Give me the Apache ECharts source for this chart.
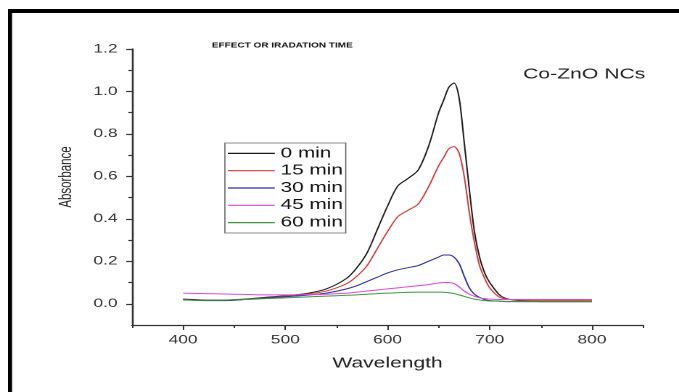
<!DOCTYPE html>
<html>
<head>
<meta charset="utf-8">
<style>
  html, body { margin: 0; padding: 0; background: #fff; overflow: hidden; }
  #wrap { width: 679px; height: 392px; overflow: hidden; }
  /* the figure is laid out narrow and widened horizontally */
  #chart { width: 468px; height: 392px; transform: scaleX(1.4509); transform-origin: 0 0; }
</style>
<script src="https://cdn.jsdelivr.net/npm/echarts@6/dist/echarts.min.js"></script>
</head>
<body>
<div id="wrap"><div id="chart"></div></div>
<script>
// UV-Vis absorbance spectra of Co-ZnO NCs at different irradiation times
const wavelengths = [400, 420, 440, 460, 480, 500, 520, 540, 560, 570, 580, 590, 600, 610, 620, 630, 640, 650, 655, 660, 665, 670, 675, 680, 685, 690, 695, 700, 710, 720, 740, 760, 780, 800];

const abs0 = [0.022, 0.018, 0.017, 0.022, 0.030, 0.038, 0.048, 0.070, 0.120, 0.170, 0.240, 0.350, 0.460, 0.555, 0.590, 0.630, 0.740, 0.900, 0.960, 1.020, 1.040, 0.970, 0.760, 0.540, 0.340, 0.220, 0.145, 0.100, 0.040, 0.020, 0.012, 0.010, 0.010, 0.010];
const abs15 = [0.020, 0.016, 0.016, 0.020, 0.028, 0.036, 0.045, 0.060, 0.095, 0.130, 0.180, 0.260, 0.340, 0.410, 0.440, 0.470, 0.550, 0.650, 0.690, 0.730, 0.740, 0.710, 0.600, 0.430, 0.290, 0.180, 0.120, 0.075, 0.030, 0.020, 0.015, 0.015, 0.015, 0.015];
const abs30 = [0.020, 0.015, 0.015, 0.020, 0.027, 0.033, 0.040, 0.050, 0.070, 0.085, 0.105, 0.125, 0.145, 0.160, 0.170, 0.180, 0.200, 0.220, 0.230, 0.230, 0.220, 0.190, 0.130, 0.075, 0.045, 0.030, 0.020, 0.015, 0.012, 0.010, 0.010, 0.010, 0.010, 0.010];
const abs45 = [0.050, 0.048, 0.046, 0.044, 0.042, 0.042, 0.043, 0.045, 0.050, 0.055, 0.060, 0.065, 0.070, 0.075, 0.080, 0.085, 0.090, 0.098, 0.100, 0.100, 0.095, 0.080, 0.060, 0.045, 0.035, 0.028, 0.024, 0.022, 0.020, 0.020, 0.020, 0.020, 0.020, 0.020];
const abs60 = [0.018, 0.016, 0.017, 0.020, 0.024, 0.028, 0.032, 0.036, 0.040, 0.042, 0.045, 0.048, 0.050, 0.052, 0.054, 0.055, 0.055, 0.055, 0.054, 0.052, 0.048, 0.042, 0.035, 0.028, 0.022, 0.018, 0.015, 0.013, 0.012, 0.011, 0.010, 0.010, 0.010, 0.010];

const seriesNames = ['0 min', '15 min', '30 min', '45 min', '60 min'];
const seriesColors = ['#1a1a1a', '#d83a36', '#2e2ea8', '#de48de', '#3a9a3a'];
const seriesValues = [abs0, abs15, abs30, abs45, abs60];

const xMajorTicks = [400, 500, 600, 700, 800];
const xMinorTicks = [350, 450, 550, 650, 750, 850];
const yMajorTicks = [0.0, 0.2, 0.4, 0.6, 0.8, 1.0, 1.2];
const yMinorTicks = [0.1, 0.3, 0.5, 0.7, 0.9, 1.1];

const FONT = 'Arial, "Liberation Sans", sans-serif';
const AXIS_COLOR = '#333';

const chart = echarts.init(document.getElementById('chart'), null, { renderer: 'canvas', devicePixelRatio: 2 });

const axisLineStyle = { show: true, onZero: false, lineStyle: { color: AXIS_COLOR, width: 1.3 } };

chart.setOption({
  animation: false,
  backgroundColor: '#fff',
  grid: { left: 91, right: 24.8, top: 49, bottom: 67, containLabel: false },
  title: [
    {
      text: 'EFFECT OR IRADATION TIME',
      left: 146, top: 42, padding: 0,
      textStyle: { fontFamily: FONT, fontSize: 6.9, fontWeight: 'bold', color: '#111' }
    },
    {
      text: 'Co-ZnO NCs',
      left: 360.5, top: 67, padding: 0,
      textStyle: { fontFamily: FONT, fontSize: 14.6, fontWeight: 'normal', color: '#222' }
    }
  ],
  legend: {
    orient: 'vertical',
    left: 155, top: 143,
    data: seriesNames,
    icon: 'rect',
    itemWidth: 32.4, itemHeight: 1.2, itemGap: 3.3,
    padding: [3.4, 2, 3.4, 2],
    borderColor: '#666', borderWidth: 0.8,
    textStyle: { fontFamily: FONT, fontSize: 14.3, lineHeight: 14, color: '#111', padding: [0, 0, 0, -1] }
  },
  xAxis: [
    {
      type: 'value', min: 350, max: 850, position: 'bottom',
      name: 'Wavelength', nameLocation: 'middle', nameGap: 31,
      nameTextStyle: { fontFamily: FONT, fontSize: 14.5, color: '#222' },
      axisLine: axisLineStyle,
      axisTick: { show: true, inside: false, length: 5, customValues: xMajorTicks, lineStyle: { color: AXIS_COLOR, width: 1 } },
      axisLabel: { show: true, margin: 9, customValues: xMajorTicks, fontFamily: FONT, fontSize: 12, color: '#333' },
      splitLine: { show: false }
    },
    {
      type: 'value', min: 350, max: 850, position: 'bottom',
      axisLine: { show: false, onZero: false },
      axisTick: { show: true, inside: false, length: 3, customValues: xMinorTicks, lineStyle: { color: AXIS_COLOR, width: 1 } },
      axisLabel: { show: false },
      splitLine: { show: false }
    }
  ],
  yAxis: [
    {
      type: 'value', min: -0.1, max: 1.2, position: 'left',
      name: 'Absorbance', nameLocation: 'middle', nameGap: 39,
      nameTextStyle: { fontFamily: FONT, fontSize: 11.5, color: '#222', padding: [0, 0, 0, 20] },
      axisLine: axisLineStyle,
      axisTick: { show: true, inside: false, length: 4, customValues: yMajorTicks, lineStyle: { color: AXIS_COLOR, width: 1.2 } },
      axisLabel: {
        show: true, margin: 10, customValues: yMajorTicks,
        fontFamily: FONT, fontSize: 12, color: '#333',
        formatter: v => v.toFixed(1)
      },
      splitLine: { show: false }
    },
    {
      type: 'value', min: -0.1, max: 1.2, position: 'left',
      axisLine: { show: false, onZero: false },
      axisTick: { show: true, inside: false, length: 2.5, customValues: yMinorTicks, lineStyle: { color: AXIS_COLOR, width: 1.2 } },
      axisLabel: { show: false },
      splitLine: { show: false }
    }
  ],
  graphic: [
    // frame edges along the top and left
    { type: 'rect', shape: { x: 5.5, y: 9, width: 470, height: 4 }, style: { fill: '#000' }, silent: true },
    { type: 'rect', shape: { x: 5.5, y: 9, width: 2.8, height: 383 }, style: { fill: '#000' }, silent: true }
  ],
  series: seriesNames.map((name, i) => ({
    name: name,
    type: 'line',
    xAxisIndex: 0,
    yAxisIndex: 0,
    smooth: 0.3,
    symbol: 'none',
    data: wavelengths.map((w, k) => [w, seriesValues[i][k]]),
    lineStyle: { color: seriesColors[i], width: 1 },
    itemStyle: { color: seriesColors[i] }
  }))
});
</script>
</body>
</html>
